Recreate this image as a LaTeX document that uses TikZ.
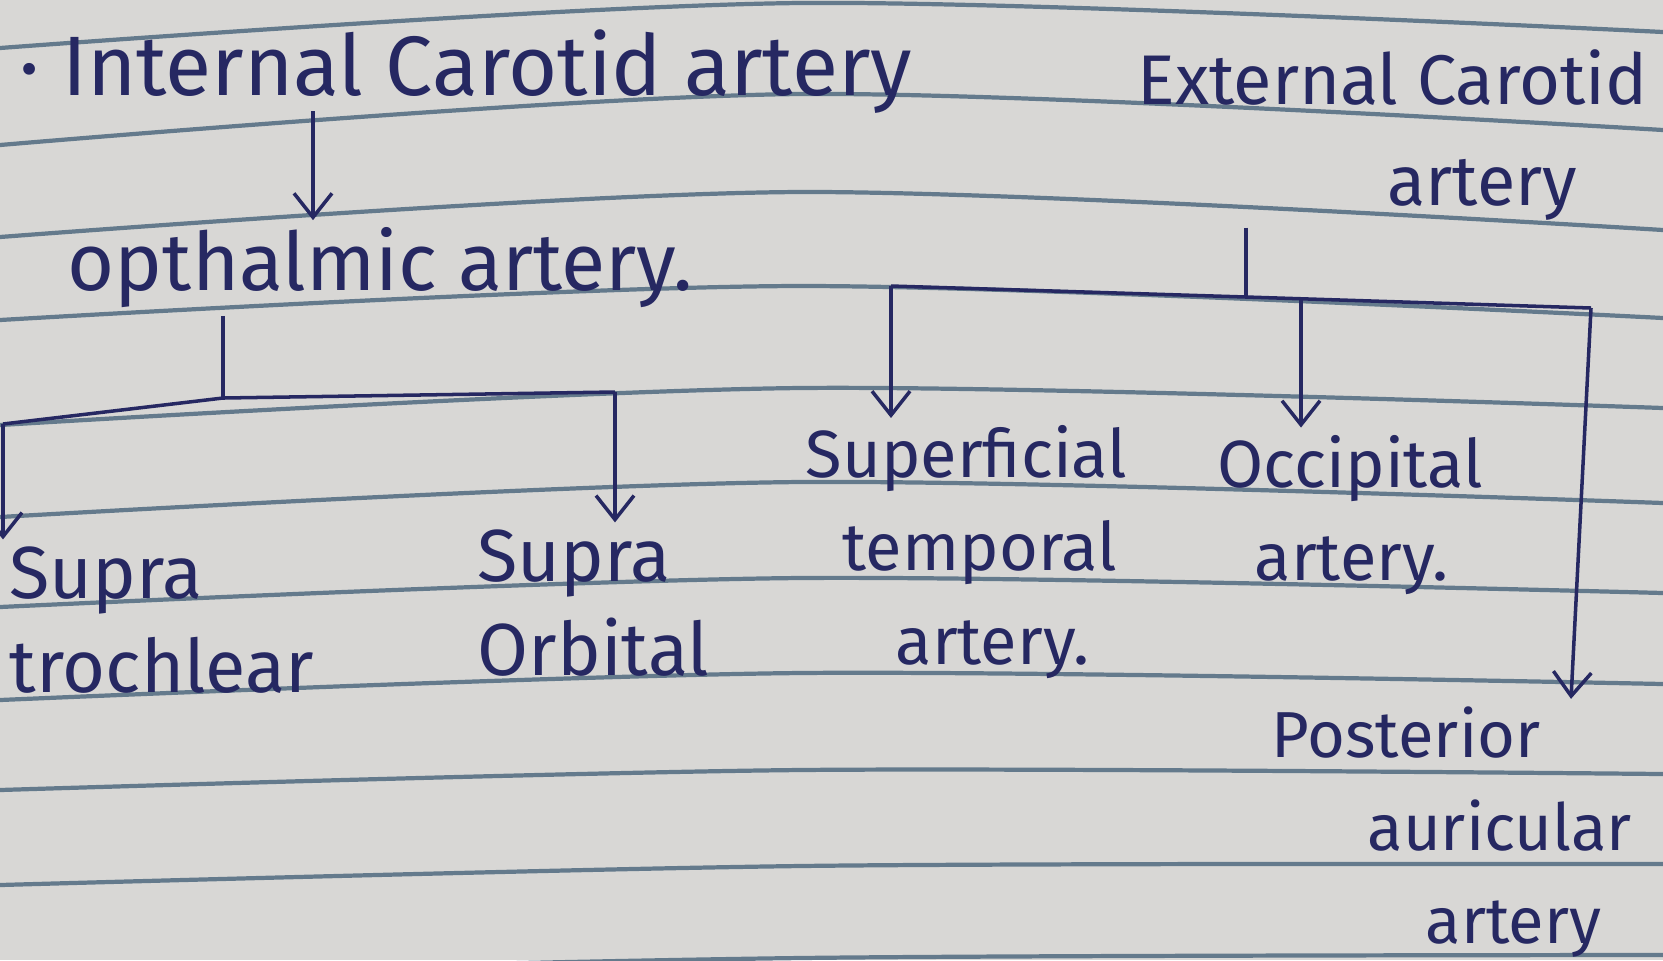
\documentclass[tikz,border=0pt]{standalone}
\usepackage{fontspec}
\setmainfont{Fira Sans}
\usetikzlibrary{arrows.meta}
\definecolor{paper}{RGB}{216,215,213}
\definecolor{ruleblue}{RGB}{100,122,140}
\definecolor{ink}{RGB}{38,40,98}
\newcommand\handsize[1]{\fontsize{#1}{26.5}\selectfont}
\tikzset{
  note/.style = {text=ink, font=\handsize{21}, inner sep=2pt},
  arr/.style = {draw=ink, line width=1pt, -{Straight Barb[length=2.4mm,width=3.8mm]}},
  link/.style = {draw=ink, line width=1pt},
  ruled/.style = {draw=ruleblue, line width=1.2pt}
}

\begin{document}
\begin{tikzpicture}
\useasboundingbox (0,0) rectangle (16.63,-9.6);
\fill[paper] (0,0) rectangle (16.63,-9.6);
\clip (0,0) rectangle (16.63,-9.6);

% notebook rules (left / middle / right depth)
\foreach \l/\m/\r in {0.48/0.03/0.32, 1.45/0.94/1.30, 2.37/1.92/2.30, 3.20/2.86/3.18,
                     4.25/3.88/4.08, 5.17/4.82/5.03, 6.07/5.78/5.93, 7.00/6.73/6.84,
                     7.90/7.70/7.74, 8.85/8.66/8.64, 9.75/9.58/9.55}
  \draw[ruled] plot[smooth] coordinates {(0,-\l) (8,-\m) (16.63,-\r)};

% Row 1
\node[note, font=\handsize{24}, anchor=west] (ica) at (0.12,-0.72) {· Internal Carotid artery};
\node[note, font=\handsize{20}, anchor=east, align=right] (eca) at (16.55,-1.35) {External Carotid\\[2pt]artery\hspace*{0.7cm}};

% Row 2
\node[note, font=\handsize{23}, anchor=west] (oph) at (0.6,-2.68) {opthalmic artery.};

% Branches
\node[note, anchor=west, align=left] (st) at (0.02,-6.2) {Supra\\trochlear};
\node[note, anchor=west, align=left] (so) at (4.7,-6.03) {Supra\\Orbital};
\node[note, font=\handsize{19}, anchor=west, align=left] (sta) at (7.98,-5.52)
  {Superficial\\\hspace*{0.37cm}temporal\\\hspace*{0.9cm}artery.};
\node[note, font=\handsize{19}, anchor=west, align=left] (occ) at (12.1,-5.15)
  {Occipital\\\hspace*{0.37cm}artery.};
\node[note, font=\handsize{18.5}, anchor=west, align=left] (pau) at (12.64,-8.32)
  {Posterior\\\hspace*{0.96cm}auricular\\\hspace*{1.54cm}artery};

% junction points
\coordinate (icaX) at (3.13,-1.11);
\coordinate (ophJ) at (2.23,-3.98);
\coordinate (stL)  at (0.03,-4.24);
\coordinate (soR)  at (6.15,-3.92);
\coordinate (ecaJ) at (12.46,-2.97);
\coordinate (staL) at (8.91,-2.86);
\coordinate (occB) at (13.01,-2.99);
\coordinate (pauR) at (15.91,-3.08);

% internal carotid side
\draw[arr] (icaX) -- (icaX |- oph.north);
\draw[link] (oph.south -| ophJ) -- (ophJ);
\draw[link] (stL) -- (ophJ) -- (soR);
\draw[arr] (stL) -- (stL |- st.north);
\draw[arr] (soR) -- (soR |- so.north);

% external carotid side
\draw[link] (eca.south -| ecaJ) -- (ecaJ);
\draw[link] (staL) -- (ecaJ) -- (pauR);
\draw[arr] (staL) -- (staL |- sta.north);
\draw[arr] (occB) -- (occB |- occ.north);
\draw[arr] (pauR) -- ([xshift=-2mm]pauR |- pau.north);

\end{tikzpicture}
\end{document}
